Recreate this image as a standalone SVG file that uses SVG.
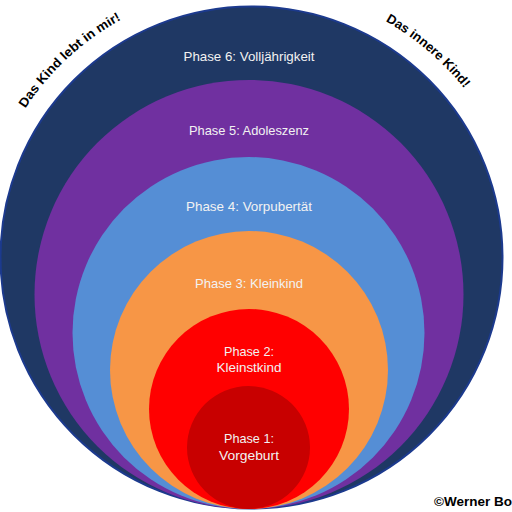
<svg xmlns="http://www.w3.org/2000/svg" width="512" height="512" viewBox="0 0 512 512">
  <style>
    .lbl { font-family: "Liberation Sans", Arial, sans-serif; font-size: 13px; fill: #f2f2f2; text-anchor: middle; }
    .arc { font-family: "Liberation Sans", Arial, sans-serif; font-size: 13px; font-weight: bold; fill: #000; }
    .copy { font-family: "Liberation Sans", Arial, sans-serif; font-size: 13.5px; font-weight: bold; fill: #000; }
  </style>
  <defs>
    <path id="textArc" d="M -2.66 164.3 A 271 271 0 0 1 506.66 164.3" fill="none"/>
  </defs>
  <rect width="512" height="512" fill="#ffffff"/>
  <g id="phase6">
    <circle cx="251.5" cy="257.5" r="251" fill="#1F3864" stroke="#1C3A8E" stroke-width="2"/>
    <text class="lbl" x="249" y="61" textLength="131" lengthAdjust="spacingAndGlyphs">Phase 6: Volljährigkeit</text>
  </g>
  <g id="phase5">
    <circle cx="249" cy="294.5" r="214.5" fill="#7030A0"/>
    <text class="lbl" x="249" y="135" textLength="120" lengthAdjust="spacingAndGlyphs">Phase 5: Adoleszenz</text>
  </g>
  <g id="phase4">
    <circle cx="248.5" cy="333" r="176" fill="#558ED5"/>
    <text class="lbl" x="249" y="211" textLength="126" lengthAdjust="spacingAndGlyphs">Phase 4: Vorpubertät</text>
  </g>
  <g id="phase3">
    <circle cx="249" cy="370" r="139" fill="#F79646"/>
    <text class="lbl" x="249" y="288" textLength="108" lengthAdjust="spacingAndGlyphs">Phase 3: Kleinkind</text>
  </g>
  <g id="phase2">
    <circle cx="249" cy="409" r="100" fill="#FF0000"/>
    <text class="lbl" x="249" y="356" textLength="50" lengthAdjust="spacingAndGlyphs">Phase 2:</text>
    <text class="lbl" x="249" y="372" textLength="65" lengthAdjust="spacingAndGlyphs">Kleinstkind</text>
  </g>
  <g id="phase1">
    <circle cx="248.5" cy="447.5" r="61.5" fill="#C80000"/>
    <text class="lbl" x="249" y="443" textLength="50" lengthAdjust="spacingAndGlyphs">Phase 1:</text>
    <text class="lbl" x="249" y="460" textLength="60" lengthAdjust="spacingAndGlyphs">Vorgeburt</text>
  </g>
  <g id="caption-left">
    <text class="arc"><textPath href="#textArc" startOffset="128.6" text-anchor="middle" textLength="132" lengthAdjust="spacingAndGlyphs">Das Kind lebt in mir!</textPath></text>
  </g>
  <g id="caption-right">
    <text class="arc"><textPath href="#textArc" startOffset="522.6" text-anchor="middle" textLength="104" lengthAdjust="spacingAndGlyphs">Das innere Kind!</textPath></text>
  </g>
  <g id="copyright">
    <text class="copy" x="434" y="506">©Werner Bo</text>
  </g>
</svg>
